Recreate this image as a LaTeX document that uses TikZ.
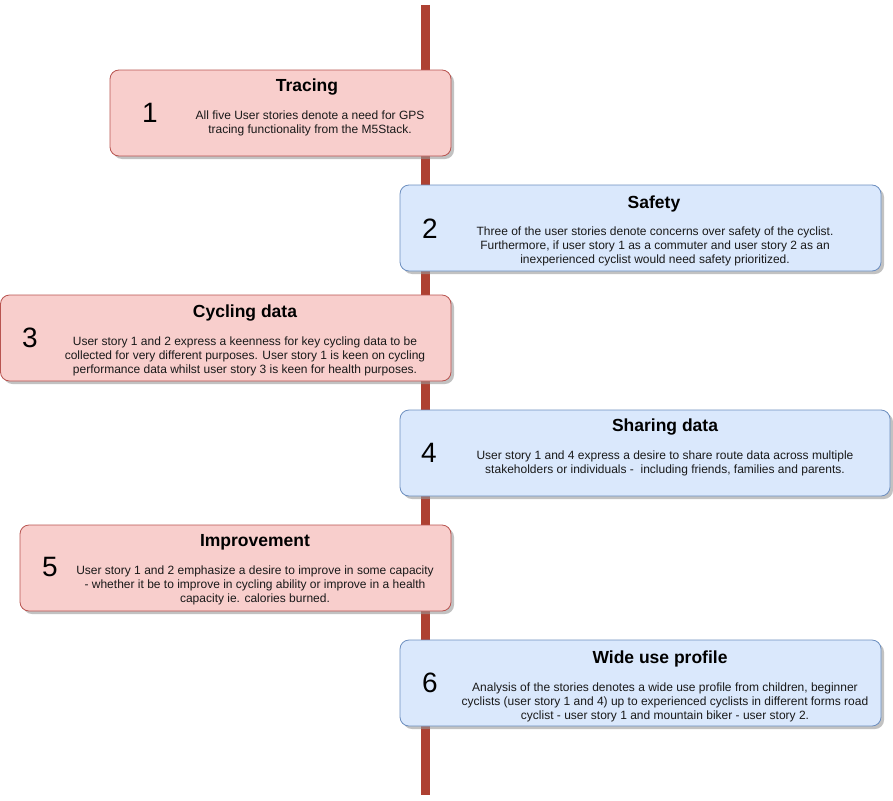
\documentclass[tikz,border=0pt]{standalone}
\usepackage{fontspec}
\setmainfont{Liberation Sans}
\usetikzlibrary{shadows}
\definecolor{pinkfill}{HTML}{F8CECC}
\definecolor{pinkline}{HTML}{B85450}
\definecolor{bluefill}{HTML}{DAE8FC}
\definecolor{blueline}{HTML}{6C8EBF}
\definecolor{axis}{HTML}{AE4132}
\begin{document}
\begin{tikzpicture}[x=1pt,y=-1pt,
  card/.style={draw, rounded corners=9pt, line width=0.8pt, inner sep=0pt,
    drop shadow={shadow xshift=3pt, shadow yshift=-3pt, fill=black!40, opacity=0.6}},
  pinkcard/.style={card, fill=pinkfill, draw=pinkline},
  bluecard/.style={card, fill=bluefill, draw=blueline},
  ttl/.style={font=\fontsize{17.5}{20}\selectfont\bfseries, inner sep=0pt},
  num/.style={font=\fontsize{28}{30}\selectfont, inner sep=0pt},
  body/.style={font=\fontsize{12}{14}\selectfont, align=center, inner sep=0pt, text=black!90}
]
\useasboundingbox (0,0) rectangle (893,800);
\coordinate (top) at (425,5);
\coordinate (bot) at (425,795);
\draw[axis, line width=9pt] (top) -- (bot);

% Box 1
\path[pinkcard] (110,70) rectangle (451,156);
\node[ttl] (t1) at (307,87.5) {Tracing};
\node[num] (n1) at (150,113) {1};
\node[body] (b1) at (310,123) {All five User stories denote a need for GPS\\tracing functionality from the M5Stack.};

% Box 2
\path[bluecard] (400,185) rectangle (881,271);
\node[ttl] (t2) at (654,203.5) {Safety};
\node[num] (n2) at (430,229) {2};
\node[body] (b2) at (655,246) {Three of the user stories denote concerns over safety of the cyclist.\\Furthermore, if user story 1 as a commuter and user story 2 as an\\inexperienced cyclist would need safety prioritized.};

% Box 3
\path[pinkcard] (0.5,295) rectangle (451,381);
\node[ttl] (t3) at (245,313.5) {Cycling data};
\node[num] (n3) at (30,338) {3};
\node[body] (b3) at (245,356) {User story 1 and 2 express a keenness for key cycling data to be\\collected for very different purposes. User story 1 is keen on cycling\\performance data whilst user story 3 is keen for health purposes.};

% Box 4
\path[bluecard] (400,410) rectangle (890,496);
\node[ttl] (t4) at (665,427.5) {Sharing data};
\node[num] (n4) at (429,453) {4};
\node[body] (b4) at (665,463) {User story 1 and 4 express a desire to share route data across multiple\\stakeholders or individuals -\ \ including friends, families and parents.};

% Box 5
\path[pinkcard] (20,525) rectangle (451,611);
\node[ttl] (t5) at (255,542.5) {Improvement};
\node[num] (n5) at (50,567) {5};
\node[body] (b5) at (255,585) {User story 1 and 2 emphasize a desire to improve in some capacity\\- whether it be to improve in cycling ability or improve in a health\\capacity ie. calories burned.};

% Box 6
\path[bluecard] (400,640) rectangle (881,726);
\node[ttl] (t6) at (660,658.5) {Wide use profile};
\node[num] (n6) at (430,683) {6};
\node[body] (b6) at (665,702) {Analysis of the stories denotes a wide use profile from children, beginner\\cyclists (user story 1 and 4) up to experienced cyclists in different forms road\\cyclist - user story 1 and mountain biker - user story 2.};
\end{tikzpicture}
\end{document}
